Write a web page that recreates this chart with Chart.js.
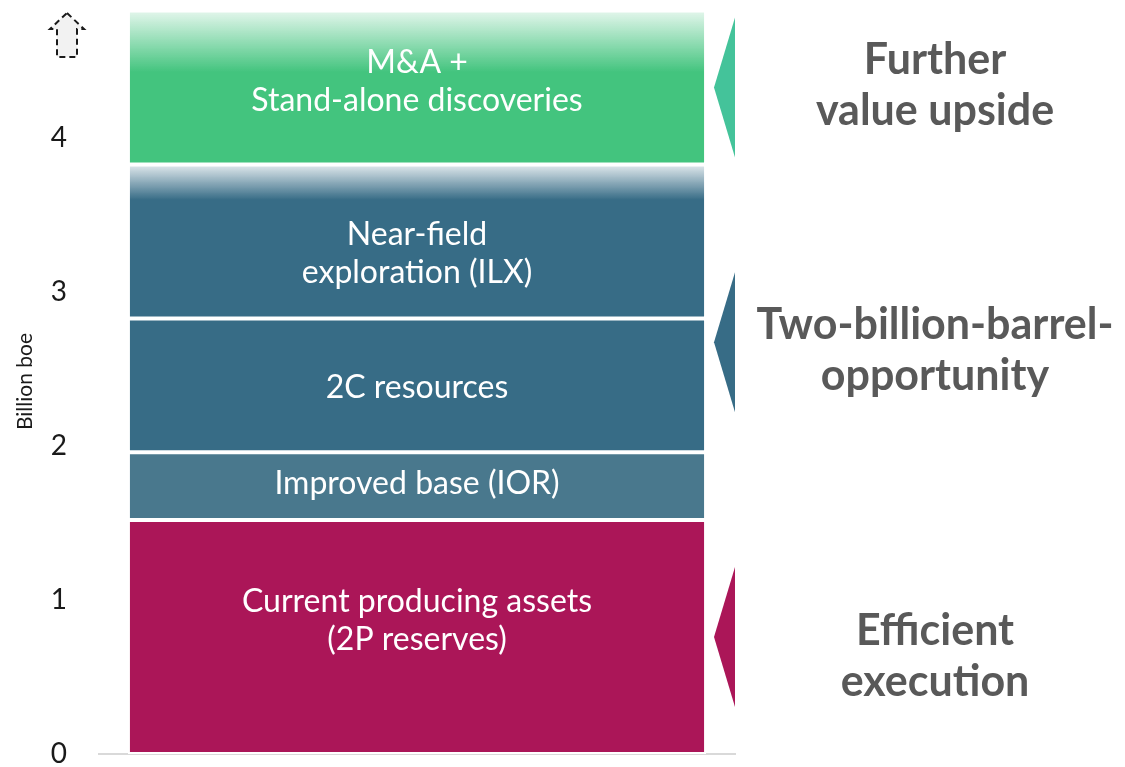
<!DOCTYPE html>
<html>
<head>
<meta charset="utf-8">
<script src="https://cdn.jsdelivr.net/npm/chart.js@4.4.1/dist/chart.umd.min.js"></script>
<style>
  html, body { margin: 0; padding: 0; background: #fff; }
  #wrap { width: 1125px; height: 767px; }
</style>
</head>
<body>
<div id="wrap"><canvas id="reservesChart"></canvas></div>
<script>
// Données du graphique
const categories = [""];
const segmentNames = ["Current producing assets", "Improved base (IOR)", "2C resources", "Near-field exploration (ILX)", "M&A + Stand-alone discoveries"];
const segmentValues = [1.52, 0.44, 0.87, 1.0, 1.0];
const segmentLabels = [
    ["Current producing assets", "(2P reserves)"],
    ["Improved base (IOR)"],
    ["2C resources"],
    ["Near-field", "exploration (ILX)"],
    ["M&A +", "Stand-alone discoveries"]
];
const segmentColors = ["#ab1658", "#49788d", "#376c86", "#376c86", "#43c47e"];
const yTicks = [0, 1, 2, 3, 4];
const yMax = 4.84;

// groupes à droite : segments couverts (premier, dernier)
const groupNames = [["Efficient", "execution"], ["Two-billion-barrel-", "opportunity"], ["Further", "value upside"]];
const groupFirst = [0, 1, 4];
const groupLast = [0, 3, 4];
const groupColors = ["#ab1658", "#376c86", "#44c39a"];

// bornes cumulées de chaque segment
const bottoms = [];
let acc = 0;
segmentValues.forEach(v => { bottoms.push(acc); acc += v; });

// segments avec un dégradé en haut (fraction de hauteur du fondu)
const fadeTop = {3: 0.23, 4: 0.4};

function hexA(hex, a) {
    const n = parseInt(hex.slice(1), 16);
    return `rgba(${n >> 16},${(n >> 8) & 255},${n & 255},${a})`;
}

function segmentFill(i) {
    return function (ctx) {
        const chart = ctx.chart;
        if (!chart.chartArea || fadeTop[i] === undefined) return segmentColors[i];
        const y = chart.scales.y;
        const top = y.getPixelForValue(bottoms[i] + segmentValues[i]);
        const bot = y.getPixelForValue(bottoms[i]);
        const g = chart.ctx.createLinearGradient(0, top, 0, bot);
        g.addColorStop(0, hexA(segmentColors[i], 0.14));
        g.addColorStop(fadeTop[i], hexA(segmentColors[i], 1));
        g.addColorStop(1, hexA(segmentColors[i], 1));
        return g;
    };
}

// textes dans les barres
const barText = {
    id: "barText",
    afterDatasetsDraw(chart, args, opts) {
        const c = chart.ctx;
        c.save();
        c.fillStyle = "#ffffff";
        c.font = "32px Lato";
        c.textAlign = "center";
        c.textBaseline = "middle";
        chart.data.datasets.forEach((ds, i) => {
            const el = chart.getDatasetMeta(i).data[0];
            const lines = segmentLabels[i];
            const mid = (el.y + el.base) / 2 + opts.dy[i];
            lines.forEach((t, k) => {
                c.fillText(t, el.x, mid + (k - (lines.length - 1) / 2) * 38);
            });
        });
        c.restore();
    }
};

// flèches et légendes à droite, flèche pointillée en haut à gauche
const sideNotes = {
    id: "sideNotes",
    afterDraw(chart, args, opts) {
        const c = chart.ctx;
        const area = chart.chartArea;
        const y = chart.scales.y;
        c.save();
        groupNames.forEach((lines, g) => {
            const lo = bottoms[groupFirst[g]];
            const hi = bottoms[groupLast[g]] + segmentValues[groupLast[g]];
            const cy = y.getPixelForValue((lo + hi) / 2);
            c.fillStyle = groupColors[g];
            c.beginPath();
            c.moveTo(area.right, cy - 70);
            c.lineTo(area.right - 21, cy);
            c.lineTo(area.right, cy + 70);
            c.closePath();
            c.fill();

            c.fillStyle = "#595959";
            c.font = "bold 43px Lato";
            c.textAlign = "center";
            c.textBaseline = "middle";
            const ty = cy + opts.dy[g];
            lines.forEach((t, k) => {
                c.fillText(t, area.right + 200, ty + (k - (lines.length - 1) / 2) * 51);
            });
        });

        // flèche pointillée
        const ax = y.right - 32, at = area.top + 4;
        c.beginPath();
        c.moveTo(ax, at);
        c.lineTo(ax + 17, at + 16);
        c.lineTo(ax + 10, at + 16);
        c.lineTo(ax + 10, at + 44);
        c.lineTo(ax - 10, at + 44);
        c.lineTo(ax - 10, at + 16);
        c.lineTo(ax - 17, at + 16);
        c.closePath();
        c.fillStyle = "#f2f2f2";
        c.fill();
        c.setLineDash([6, 4]);
        c.lineWidth = 2;
        c.strokeStyle = "#1a1a1a";
        c.stroke();
        c.restore();
    }
};

const data = {
    labels: categories,
    datasets: segmentNames.map((name, i) => ({
        label: name,
        data: [segmentValues[i]],
        backgroundColor: segmentFill(i),
        borderColor: "#ffffff",
        borderWidth: 2,
        borderSkipped: false,
        categoryPercentage: 1,
        barPercentage: 0.909
    }))
};

// Configuration du graphique
const config = {
    type: "bar",
    data: data,
    options: {
        responsive: true,
        maintainAspectRatio: false,
        animation: false,
        layout: { padding: { top: 9, right: 390, left: 0, bottom: 0 } },
        plugins: {
            legend: { display: false },
            tooltip: { enabled: false },
            barText: { dy: [-16, -2, 2, 12, -6] },
            sideNotes: { dy: [20, 8, -2] }
        },
        scales: {
            x: {
                stacked: true,
                grid: { display: false, drawTicks: false },
                ticks: { display: false },
                border: { color: "#d9d9d9", width: 2 },
                afterFit(scale) {
                    scale.height = 13;
                    scale.paddingLeft = 0;
                    scale.paddingRight = 0;
                }
            },
            y: {
                stacked: true,
                min: 0,
                max: yMax,
                grid: { display: false, drawTicks: false },
                border: { display: false },
                afterBuildTicks(scale) { scale.ticks = yTicks.map(v => ({ value: v })); },
                afterFit(scale) {
                    scale.width = 99;
                    scale.paddingTop = 0;
                    scale.paddingBottom = 0;
                },
                ticks: {
                    padding: 32,
                    color: "#1a1a1a",
                    font: { family: "Lato", size: 28 }
                },
                title: {
                    display: true,
                    text: "Billion boe",
                    color: "#1a1a1a",
                    font: { family: "Lato", size: 21 },
                    padding: { top: 13, bottom: 0 }
                }
            }
        }
    },
    plugins: [barText, sideNotes]
};

// Affichage du graphique
new Chart(document.getElementById("reservesChart"), config);
</script>
</body>
</html>
